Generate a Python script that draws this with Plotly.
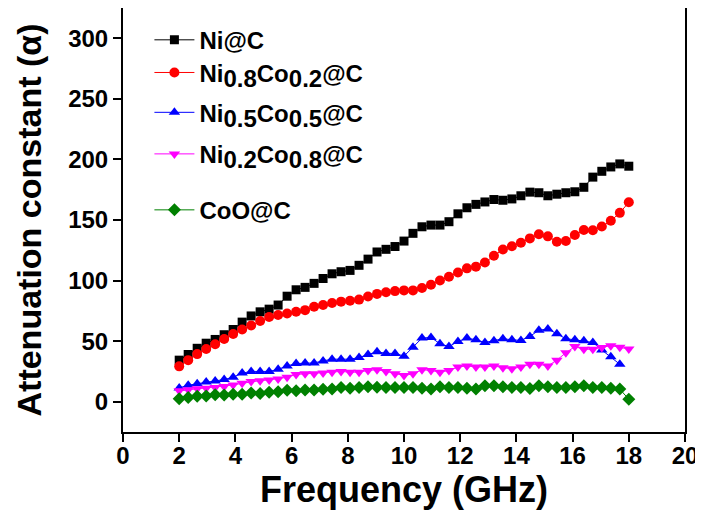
import plotly.graph_objects as go

freq = [2.00, 2.32, 2.64, 2.96, 3.28, 3.60, 3.92, 4.24, 4.56, 4.88, 5.20, 5.52, 5.84,
        6.16, 6.48, 6.80, 7.12, 7.44, 7.76, 8.08, 8.40, 8.72, 9.04, 9.36, 9.68, 10.00,
        10.32, 10.64, 10.96, 11.28, 11.60, 11.92, 12.24, 12.56, 12.88, 13.20, 13.52,
        13.84, 14.16, 14.48, 14.80, 15.12, 15.44, 15.76, 16.08, 16.40, 16.72, 17.04,
        17.36, 17.68, 18.00]

ni_c = [34.3, 39.0, 44.1, 48.3, 51.4, 55.3, 59.6, 65.7, 70.8, 74.2, 76.4, 79.8, 87.1,
        92.4, 94.4, 97.7, 101.7, 105.6, 107.3, 108.4, 112.6, 117.7, 123.6, 125.8, 128.1,
        132.6, 139.0, 144.4, 145.8, 145.8, 148.6, 155.1, 160.1, 162.9, 164.9, 166.9,
        166.3, 167.4, 170.0, 173.0, 172.5, 170.0, 171.3, 172.5, 173.3, 177.0, 185.4,
        190.2, 193.8, 196.3, 194.4]

ni08 = [29.2, 34.3, 39.3, 43.5, 47.5, 51.7, 55.9, 59.6, 62.9, 66.6, 69.9, 71.6, 72.8,
        74.2, 75.6, 78.4, 79.8, 81.5, 82.6, 83.4, 84.3, 86.8, 89.0, 90.4, 91.3,
        91.9, 91.9, 93.8, 96.6, 100.0, 103.1, 106.7, 110.1, 111.5, 114.9, 120.5, 125.6,
        128.4, 131.2, 134.8, 138.2, 136.5, 132.0, 132.6, 137.6, 141.8, 141.6, 144.7,
        149.4, 155.9, 164.6]

ni05 = [11.4, 13.6, 14.8, 16.2, 17.2, 18.3, 20.2, 23.6, 25.0, 25.0, 25.0, 26.7, 29.5,
        31.5, 32.0, 32.0, 33.7, 35.1, 35.1, 35.1, 36.5, 39.0, 41.3, 39.9, 39.9,
        37.6, 44.9, 52.5, 53.1, 47.8, 45.5, 49.7, 52.5, 51.1, 48.9, 50.3, 52.0, 51.1,
        50.6, 53.9, 59.0, 60.1, 56.2, 52.0, 51.1, 50.3, 48.9, 42.7, 37.1, 30.9, None]

ni02 = [9.0, 9.8, 10.7, 11.2, 11.8, 12.6, 13.8, 15.2, 16.6, 17.4, 18.0, 18.8, 20.2,
        22.5, 23.0, 23.0, 23.6, 24.4, 25.0, 24.4, 24.4, 25.8, 26.4, 25.0, 23.0,
        21.6, 23.0, 26.4, 25.8, 24.4, 25.8, 28.7, 29.5, 28.7, 28.7, 29.5, 28.1, 27.2,
        28.7, 30.9, 30.9, 29.5, 34.3, 40.4, 45.5, 43.3, 43.3, 44.7, 46.3, 44.9, 43.5]

coo_c = [2.5, 3.4, 4.6, 4.8, 5.8, 5.6, 6.2, 6.2, 7.2, 6.7, 7.8, 8.2, 9.4, 9.0, 9.6,
         9.6, 10.2, 10.4, 11.8, 11.2, 11.8, 12.4, 12.0, 11.8, 11.8,
         11.8, 11.8, 11.2, 10.4, 12.4, 11.8, 11.8, 11.2, 10.4, 13.2, 13.2, 12.4, 11.8,
         11.8, 11.0, 13.2, 12.4, 11.8, 11.8, 12.4, 13.2, 11.8, 11.8, 11.2, 10.4, 2.0]


def sub(t):
    return '<sub><span style="font-size:24px">' + t + '</span></sub>'


series = [
    ("Ni@C", ni_c, "#000000", "square", 9),
    ("Ni" + sub("0.8") + "Co" + sub("0.2") + "@C", ni08, "#ff0000", "circle", 10),
    ("Ni" + sub("0.5") + "Co" + sub("0.5") + "@C", ni05, "#0000ff", "triangle-up", 10),
    ("Ni" + sub("0.2") + "Co" + sub("0.8") + "@C", ni02, "#ff00ff", "triangle-down", 10),
    ("CoO@C", coo_c, "#008000", "diamond", 10),
]

# legend row centres (paper fraction of plot height, from the bottom)
legend_rows = [0.924, 0.847, 0.753, 0.655, 0.523]

FONT = "Liberation Sans, Arial, Helvetica, sans-serif"

fig = go.Figure()
legend_layout = {}
for k, (name, vals, col, sym, size) in enumerate(series):
    lname = "legend" if k == 0 else "legend%d" % (k + 1)
    fig.add_trace(go.Scatter(
        x=freq, y=vals, name=name, mode="lines+markers",
        line=dict(color=col, width=1),
        marker=dict(symbol=sym, size=size, color=col, line=dict(width=0)),
        legend=lname,
    ))
    legend_layout[lname] = dict(
        x=0.047, y=legend_rows[k], xanchor="left", yanchor="middle",
        bgcolor="rgba(0,0,0,0)", borderwidth=0, itemwidth=40,
        font=dict(family=FONT, size=24, color="black", weight="bold"),
    )

axis_common = dict(
    showline=True, linecolor="black", linewidth=2, mirror=True,
    ticks="outside", ticklen=8, tickwidth=2, tickcolor="black",
    showgrid=False, zeroline=False, automargin=False,
    tickfont=dict(family=FONT, size=24, color="black", weight="bold"),
)

# page body has an 8px margin, so the figure is sized/offset to compensate
fig.update_layout(
    width=695, height=503,
    margin=dict(l=115, r=18, t=0, b=79),
    paper_bgcolor="white", plot_bgcolor="white",
    font=dict(family=FONT, color="black"),
    xaxis=dict(range=[0, 20], tickvals=[0, 2, 4, 6, 8, 10, 12, 14, 16, 18, 20],
               ticklabelstandoff=-7,
               title=dict(text="Frequency (GHz)", standoff=4,
                          font=dict(family=FONT, size=36, color="black", weight="bold")),
               **axis_common),
    yaxis=dict(range=[-25, 325], tickvals=[0, 50, 100, 150, 200, 250, 300],
               title=dict(text="Attenuation constant (α)", standoff=16,
                          font=dict(family=FONT, size=34, color="black", weight="bold")),
               **axis_common),
    showlegend=True,
    **legend_layout,
)

fig.write_html("out.html")
